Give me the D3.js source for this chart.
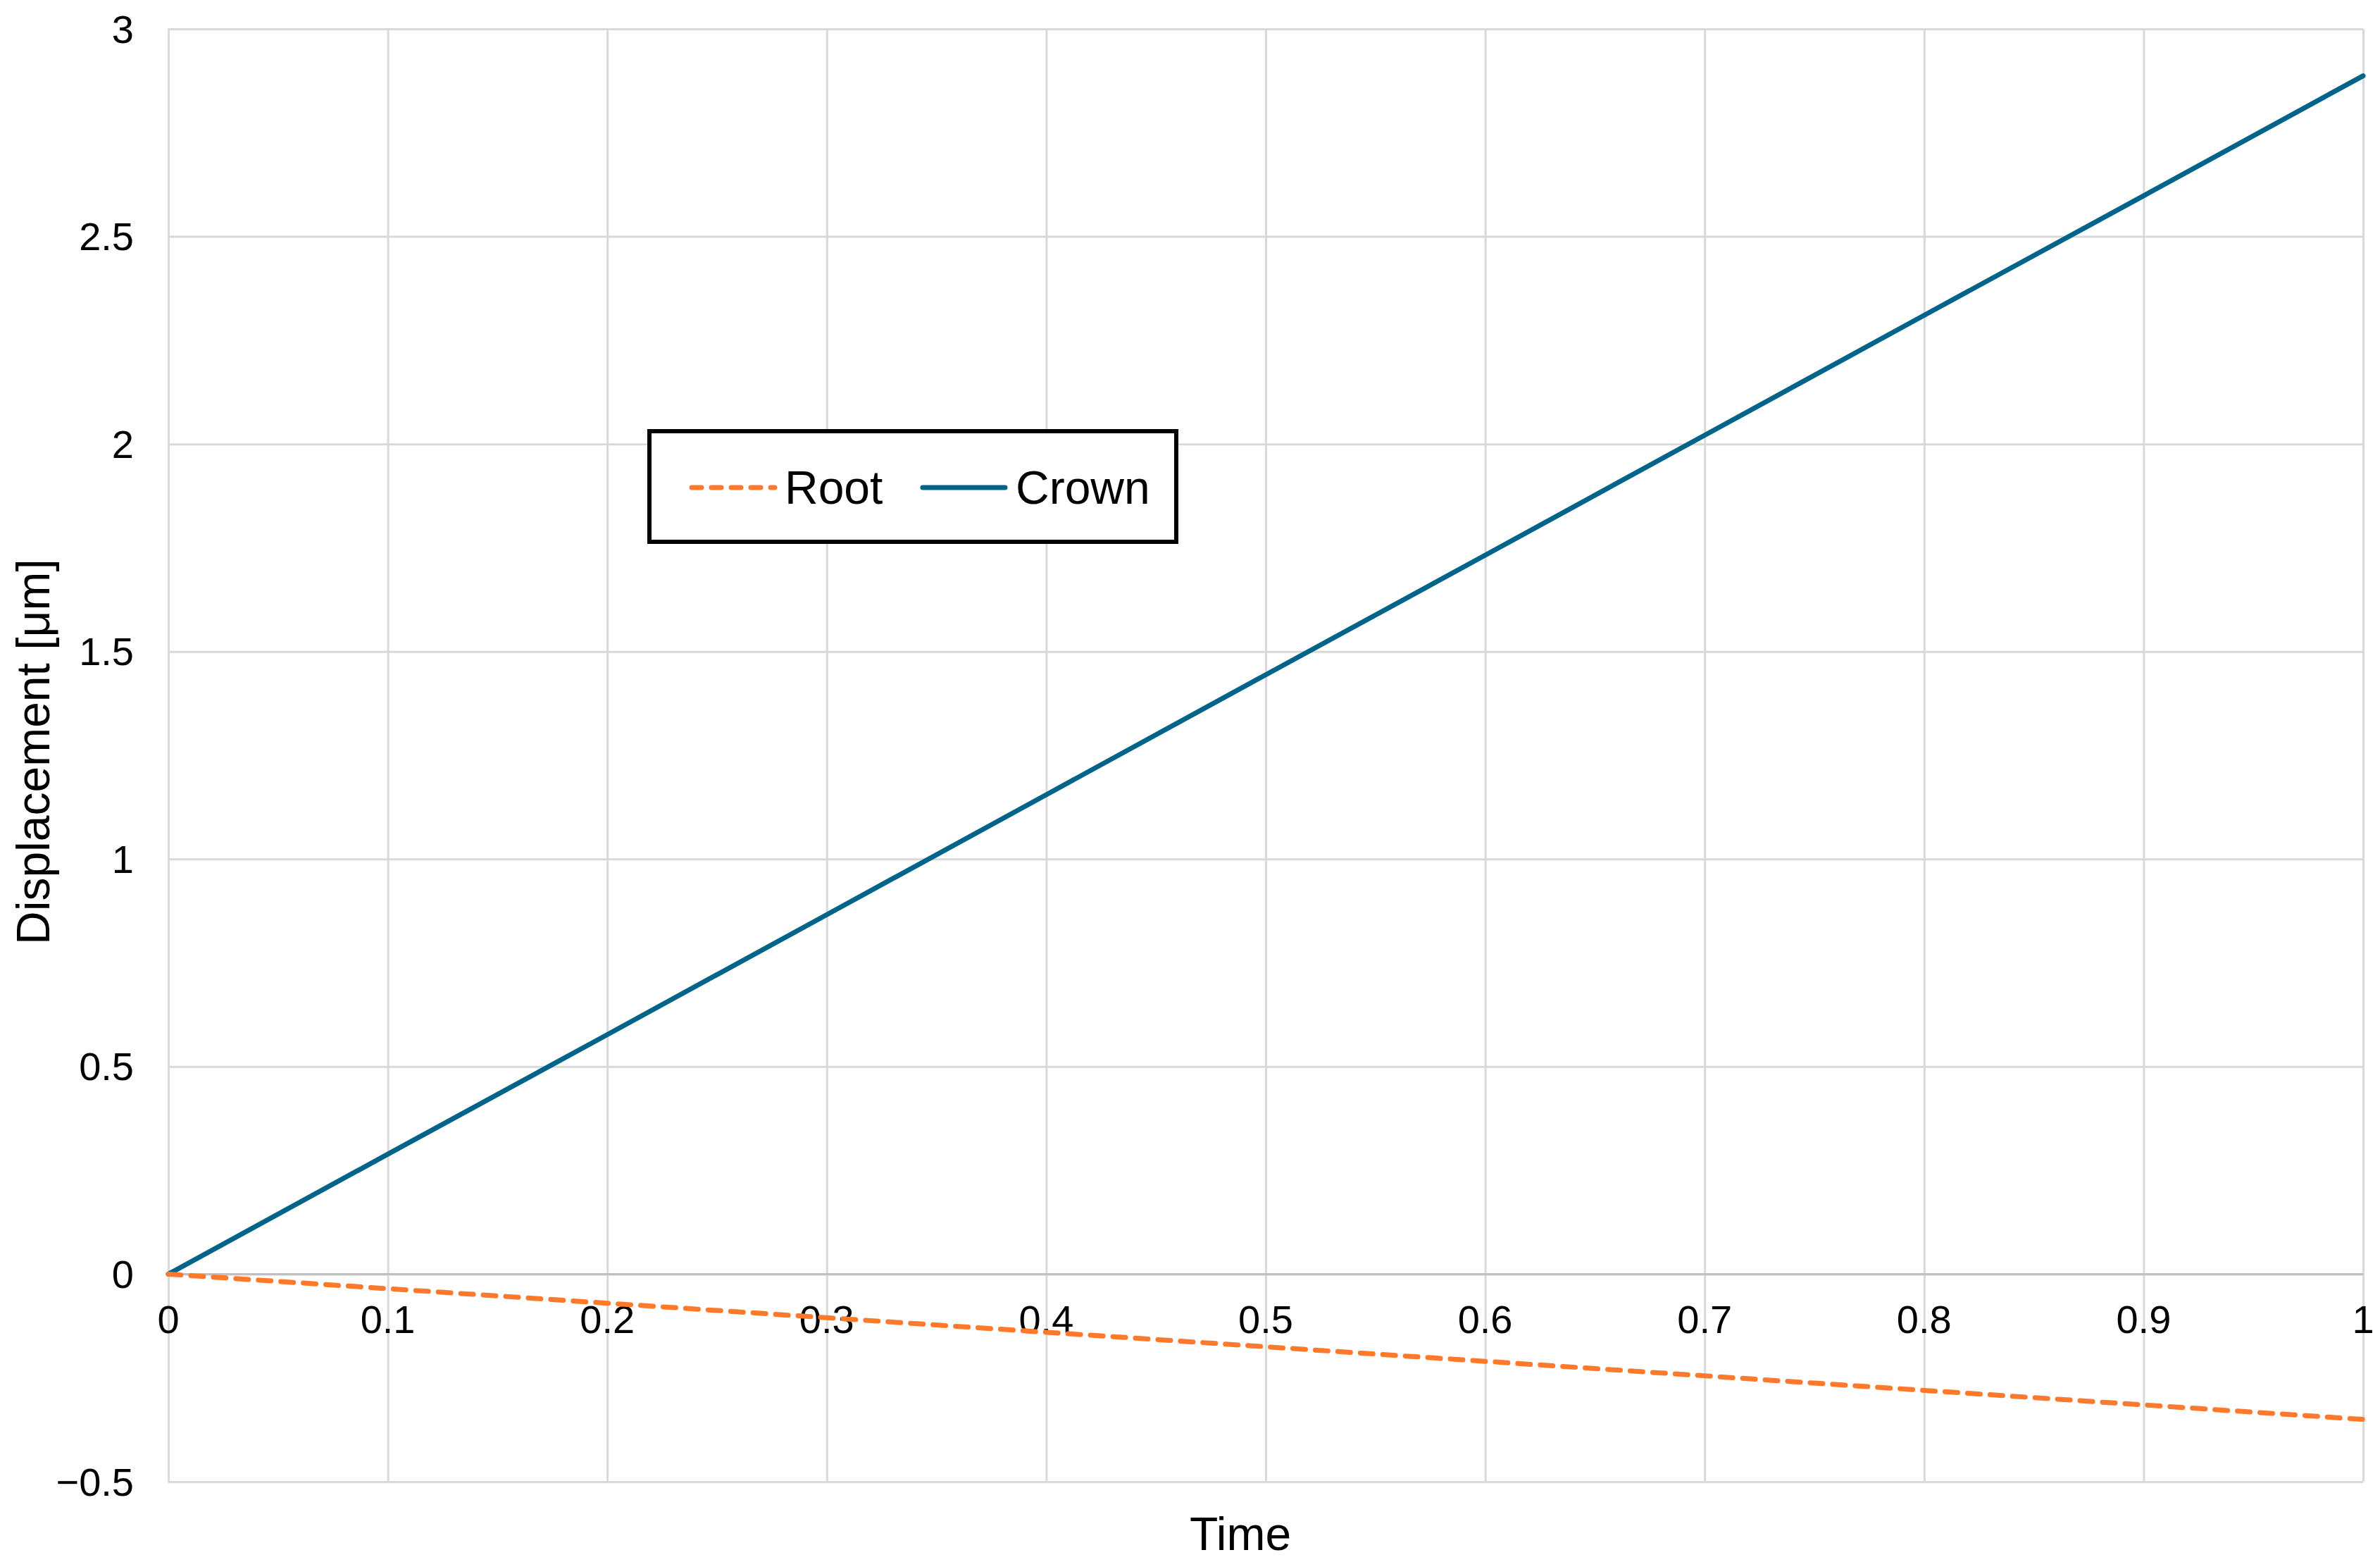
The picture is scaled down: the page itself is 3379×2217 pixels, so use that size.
<!DOCTYPE html>
<html><head><meta charset="utf-8">
<script src="https://cdn.jsdelivr.net/npm/d3@7"></script>
<style>body{margin:0;background:#fff;}svg{display:block;font-family:Arial,"Liberation Sans",sans-serif;}</style>
</head><body>
<script>
const time = [0, 0.1, 0.2, 0.3, 0.4, 0.5, 0.6, 0.7, 0.8, 0.9, 1];
const crown = [0, 0.289, 0.577, 0.866, 1.155, 1.444, 1.732, 2.021, 2.310, 2.598, 2.887];
const root = [0, -0.035, -0.070, -0.105, -0.140, -0.175, -0.210, -0.245, -0.280, -0.315, -0.350];
const xTicks = [0, 0.1, 0.2, 0.3, 0.4, 0.5, 0.6, 0.7, 0.8, 0.9, 1];
const yTicks = [-0.5, 0, 0.5, 1, 1.5, 2, 2.5, 3];
const seriesNames = ["Root", "Crown"];

const W = 3379, H = 2217;
const L = 239, R = 3355, T = 41, B = 2103;
const svg = d3.select("body").append("svg").attr("width", W).attr("height", H);
const x = d3.scaleLinear().domain([0, 1]).range([L, R]);
const y = d3.scaleLinear().domain([-0.5, 3]).range([B, T]);

// gridlines
svg.append("g").attr("transform", `translate(0,0)`)
  .call(d3.axisLeft(y).tickValues(yTicks).tickSize(-(R - L)).tickFormat(""))
  .attr("transform", `translate(${L},0)`)
  .call(g => g.select(".domain").remove())
  .call(g => g.selectAll("line").attr("stroke", "#d9d9d9").attr("stroke-width", 3));
svg.append("g").attr("transform", `translate(0,${B})`)
  .call(d3.axisBottom(x).tickValues(xTicks).tickSize(-(B - T)).tickFormat(""))
  .call(g => g.select(".domain").remove())
  .call(g => g.selectAll("line").attr("stroke", "#d9d9d9").attr("stroke-width", 3));

// zero axis
svg.append("line").attr("x1", L).attr("x2", R).attr("y1", y(0)).attr("y2", y(0))
  .attr("stroke", "#bfbfbf").attr("stroke-width", 3);

// y tick labels
svg.append("g").selectAll("text").data(yTicks).join("text")
  .attr("x", 190).attr("y", d => y(d)).attr("dy", "0.35em")
  .attr("text-anchor", "end").attr("font-size", 56).attr("fill", "#000")
  .text(d => d < 0 ? "\u2212" + Math.abs(d) : d);

// x tick labels
svg.append("g").selectAll("text").data(xTicks).join("text")
  .attr("x", d => x(d)).attr("y", y(0) + 64).attr("dy", "0.35em")
  .attr("text-anchor", "middle").attr("font-size", 56).attr("fill", "#000")
  .text(d => d);

// axis titles
svg.append("text").attr("x", 1761).attr("y", 2177).attr("dy", "0.35em")
  .attr("text-anchor", "middle").attr("font-size", 66).text("Time");
svg.append("text").attr("transform", `translate(47,1067) rotate(-90)`).attr("dy", "0.35em")
  .attr("text-anchor", "middle").attr("font-size", 66).text("Displacement [\u03bcm]");

const line = d3.line().x((d, i) => x(time[i])).y(d => y(d));
svg.append("path").datum(crown).attr("d", line).attr("fill", "none")
  .attr("stroke", "#00648a").attr("stroke-width", 7).attr("stroke-linecap", "round");
svg.append("path").datum(root).attr("d", line).attr("fill", "none")
  .attr("stroke", "#ff792d").attr("stroke-width", 7).attr("stroke-linecap", "round")
  .attr("stroke-dasharray", "18,14");

// legend
const lg = svg.append("g");
lg.append("rect").attr("x", 922).attr("y", 612).attr("width", 748).attr("height", 157)
  .attr("fill", "#fff").attr("stroke", "#000").attr("stroke-width", 6);
const ly = 692;
lg.append("line").attr("x1", 982).attr("x2", 1100).attr("y1", ly).attr("y2", ly)
  .attr("stroke", "#ff792d").attr("stroke-width", 7).attr("stroke-linecap", "round")
  .attr("stroke-dasharray", "14,14");
lg.append("text").attr("x", 1114).attr("y", ly).attr("dy", "0.35em").attr("font-size", 66).text(seriesNames[0]);
lg.append("line").attr("x1", 1310).attr("x2", 1427).attr("y1", ly).attr("y2", ly)
  .attr("stroke", "#00648a").attr("stroke-width", 7).attr("stroke-linecap", "round");
lg.append("text").attr("x", 1442).attr("y", ly).attr("dy", "0.35em").attr("font-size", 66).text(seriesNames[1]);
</script>
</body></html>
